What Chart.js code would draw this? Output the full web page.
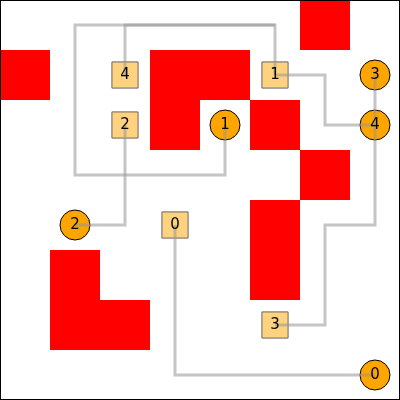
<!DOCTYPE html>
<html>
<head>
<script src="https://cdn.jsdelivr.net/npm/chart.js@4/dist/chart.umd.min.js"></script>
<style>html,body{margin:0;padding:0;background:#fff}#c{display:block}</style>
</head>
<body>
<div style="width:400px;height:400px"><canvas id="c" width="400" height="400"></canvas></div>
<script>
// grid cells (col, row) of the obstacles
const obstacles = [[6,0],[0,1],[3,1],[4,1],[3,2],[5,2],[6,3],[5,4],[5,5],[1,5],[1,6],[2,6]];
// start squares and goal circles (cell centers)
const startLabels = ['4','2','1','0','3'];
const startX = [2.5, 2.5, 5.5, 3.5, 5.5];
const startY = [1.5, 2.5, 1.5, 4.5, 6.5];
const goalLabels = ['1','3','4','2','0'];
const goalX = [4.5, 7.5, 7.5, 1.5, 7.5];
const goalY = [2.5, 1.5, 2.5, 4.5, 7.5];
// routes as lists of cell centers
const routes = [
  [[2.5,1.5],[2.5,0.5],[5.5,0.5]],
  [[5.5,1.5],[5.5,0.5],[1.5,0.5],[1.5,3.5],[4.5,3.5],[4.5,2.5]],
  [[5.5,1.5],[6.5,1.5],[6.5,2.5],[7.5,2.5]],
  [[2.5,2.5],[2.5,4.5],[1.5,4.5]],
  [[3.5,4.5],[3.5,7.5],[7.5,7.5]],
  [[5.5,6.5],[6.5,6.5],[6.5,4.5],[7.5,4.5],[7.5,1.5]]
];

const backdrop = {
  id: 'backdrop',
  beforeDatasetsDraw(chart) {
    const {ctx, scales: {x, y}} = chart;
    ctx.save();
    ctx.fillStyle = '#ff0000';
    obstacles.forEach(([c, r]) => {
      const x0 = Math.floor(x.getPixelForValue(c)), x1 = Math.ceil(x.getPixelForValue(c + 1));
      const y0 = Math.floor(y.getPixelForValue(r)), y1 = Math.ceil(y.getPixelForValue(r + 1));
      ctx.fillRect(x0, y0, x1 - x0, y1 - y0);
    });
    ctx.restore();
  },
  afterDraw(chart) {
    const {ctx, chartArea: a} = chart;
    ctx.save();
    ctx.strokeStyle = '#000';
    ctx.lineWidth = 1;
    ctx.strokeRect(a.left + 0.5, a.top + 0.5, a.right - a.left - 1, a.bottom - a.top - 1);
    ctx.restore();
  }
};

const labelPlugin = {
  id: 'labels',
  afterDatasetsDraw(chart) {
    const {ctx, scales: {x, y}} = chart;
    ctx.save();
    ctx.fillStyle = '#000';
    ctx.font = '15px "DejaVu Sans"';
    ctx.textAlign = 'center';
    ctx.textBaseline = 'middle';
    startLabels.forEach((t, i) => ctx.fillText(t, x.getPixelForValue(startX[i]), y.getPixelForValue(startY[i])));
    goalLabels.forEach((t, i) => ctx.fillText(t, x.getPixelForValue(goalX[i]), y.getPixelForValue(goalY[i])));
    ctx.restore();
  }
};

const routeSets = routes.map(r => ({
  type: 'line',
  data: r.map(([px, py]) => ({x: px, y: py})),
  borderColor: 'rgba(150,150,150,0.55)',
  borderWidth: 3,
  pointRadius: 0,
  fill: false,
  tension: 0
}));

new Chart(document.getElementById('c'), {
  type: 'scatter',
  data: {
    datasets: [
      ...routeSets,
      {
        data: startX.map((v, i) => ({x: v, y: startY[i]})),
        pointStyle: 'rect',
        pointRadius: 18.5,
        backgroundColor: '#ffd27f',
        borderColor: '#666',
        borderWidth: 1
      },
      {
        data: goalX.map((v, i) => ({x: v, y: goalY[i]})),
        pointStyle: 'circle',
        pointRadius: 15,
        backgroundColor: '#ffa500',
        borderColor: '#000',
        borderWidth: 1
      }
    ]
  },
  options: {
    responsive: false,
    animation: false,
    layout: {padding: 0, autoPadding: false},
    plugins: {legend: {display: false}, tooltip: {enabled: false}},
    scales: {
      x: {type: 'linear', min: 0, max: 8, display: false},
      y: {type: 'linear', min: 0, max: 8, reverse: true, display: false}
    }
  },
  plugins: [backdrop, labelPlugin]
});
</script>
</body>
</html>
